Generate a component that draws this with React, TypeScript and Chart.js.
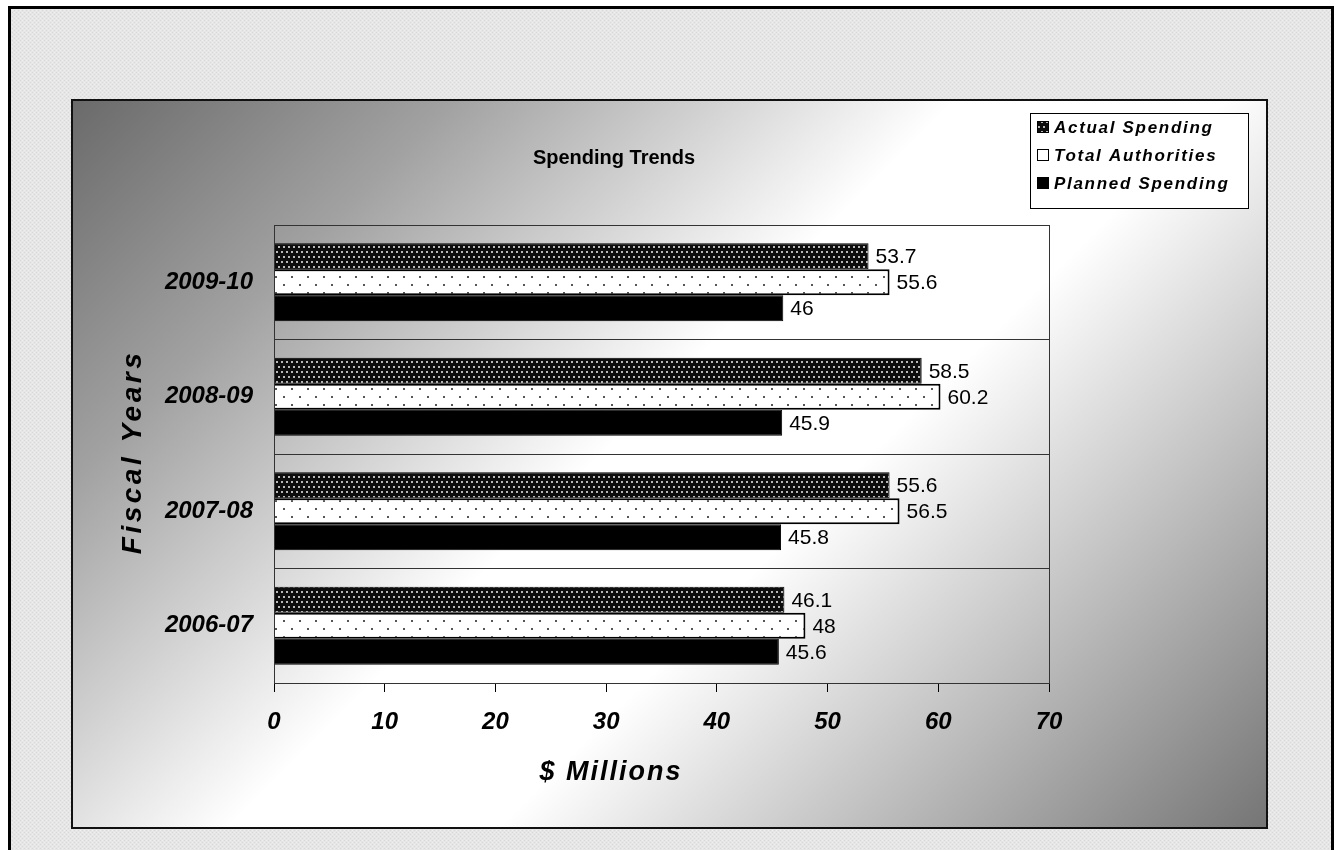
import React, { useEffect, useRef } from 'react';
import { Chart, registerables } from 'chart.js';

Chart.register(...registerables);

const categories = ['2009-10', '2008-09', '2007-08', '2006-07'];
const actualSpending = [53.7, 58.5, 55.6, 46.1];
const totalAuthorities = [55.6, 60.2, 56.5, 48];
const plannedSpending = [46, 45.9, 45.8, 45.6];
const seriesNames = ['Actual Spending', 'Total Authorities', 'Planned Spending'];
const xMin = 0;
const xMax = 70;
const xStep = 10;
const chartTitle = 'Spending Trends';
const xTitle = '$ Millions';
const yTitle = 'Fiscal Years';

const FONT = 'Arial, "Liberation Sans", sans-serif';
const W = 1339;
const H = 850;

function makePattern(ctx: CanvasRenderingContext2D, kind: string): CanvasPattern | string {
  const c = document.createElement('canvas');
  const g = c.getContext('2d')!;
  if (kind === 'actual') {
    c.width = 10; c.height = 10;
    g.fillStyle = '#0c0c0c'; g.fillRect(0, 0, 10, 10);
    g.fillStyle = '#b8b8b8';
    g.fillRect(1, 1, 2, 2); g.fillRect(6, 1, 2, 2);
    g.fillRect(3, 6, 2, 2); g.fillRect(8, 6, 2, 2);
  } else if (kind === 'total') {
    c.width = 16; c.height = 16;
    g.fillStyle = '#ffffff'; g.fillRect(0, 0, 16, 16);
    g.fillStyle = '#555555';
    g.fillRect(3, 4, 2, 2); g.fillRect(11, 12, 2, 2);
  } else if (kind === 'page') {
    c.width = 4; c.height = 4;
    g.fillStyle = '#e6e6e6'; g.fillRect(0, 0, 4, 4);
    g.fillStyle = '#d8d8d8';
    g.fillRect(0, 0, 1, 1); g.fillRect(2, 2, 1, 1);
    g.fillStyle = '#efefef';
    g.fillRect(2, 0, 1, 1); g.fillRect(0, 2, 1, 1);
  } else {
    return '#000000';
  }
  return ctx.createPattern(c, 'repeat')!;
}

export default function App() {
  const ref = useRef<HTMLCanvasElement>(null);
  useEffect(() => {
    const canvas = ref.current!;
    const ctx = canvas.getContext('2d')!;
    const pActual = makePattern(ctx, 'actual');
    const pTotal = makePattern(ctx, 'total');
    const pPlanned = makePattern(ctx, 'planned');
    const pPage = makePattern(ctx, 'page');
    const fills = [pActual, pTotal, pPlanned];

    const backdrop = {
      id: 'backdrop',
      beforeDraw(chart: any) {
        const c = chart.ctx as any;
        c.save();
        c.fillStyle = '#ffffff';
        c.fillRect(0, 0, W, H);
        c.fillStyle = pPage as any;
        c.fillRect(9, 7, 1324, H);
        c.strokeStyle = '#000';
        c.lineWidth = 3;
        c.beginPath();
        c.moveTo(9.5, H + 5);
        c.lineTo(9.5, 7.5);
        c.lineTo(1332.5, 7.5);
        c.lineTo(1332.5, H + 5);
        c.stroke();
        // chart area box with gradient
        const x0 = 72, y0 = 100, x1 = 1267, y1 = 828;
        const grad = c.createLinearGradient(x0, y0, x0 + 961, y0 + 961);
        grad.addColorStop(0, '#6a6a6a');
        grad.addColorStop(0.2, '#a2a2a2');
        grad.addColorStop(0.46, '#ffffff');
        grad.addColorStop(0.6, '#ffffff');
        grad.addColorStop(1, '#757575');
        c.fillStyle = grad;
        c.fillRect(x0, y0, x1 - x0, y1 - y0);
        c.lineWidth = 2;
        c.strokeStyle = '#111';
        c.strokeRect(x0, y0, x1 - x0, y1 - y0);
        // title
        c.fillStyle = '#000';
        c.textAlign = 'center';
        c.textBaseline = 'middle';
        c.font = `bold 20px ${FONT}`;
        c.fillText(chartTitle, 614, 158);
        c.font = `italic bold 27px ${FONT}`;
        c.letterSpacing = '2px';
        c.fillText(xTitle, 611, 773);
        c.save();
        c.translate(133, 452);
        c.rotate(-Math.PI / 2);
        c.font = `italic bold 28px ${FONT}`;
        c.letterSpacing = '3.5px';
        c.fillText(yTitle, 0, 0);
        c.restore();
        c.letterSpacing = '0px';
        // legend
        const lx = 1030, ly = 113, lw = 1248 - 1030, lh = 95;
        c.fillStyle = '#ffffff';
        c.fillRect(lx, ly, lw, lh);
        c.strokeStyle = '#000';
        c.lineWidth = 1;
        c.strokeRect(lx + 0.5, ly + 0.5, lw, lh);
        c.textAlign = 'left';
        c.font = `italic bold 17px ${FONT}`;
        c.letterSpacing = '1.7px';
        seriesNames.forEach((name, i) => {
          const cy = 127 + i * 28;
          c.fillStyle = fills[i] as any;
          c.fillRect(1037, cy - 6, 12, 12);
          c.strokeStyle = '#000';
          c.strokeRect(1037.5, cy - 5.5, 11, 11);
          c.fillStyle = '#000';
          c.fillText(name, 1054, cy + 1);
        });
        c.letterSpacing = '0px';
        c.restore();
      },
      afterDatasetsDraw(chart: any) {
        const c = chart.ctx as CanvasRenderingContext2D;
        c.save();
        c.font = `21px ${FONT}`;
        c.fillStyle = '#000';
        c.textAlign = 'left';
        c.textBaseline = 'middle';
        chart.data.datasets.forEach((ds: any, di: number) => {
          const meta = chart.getDatasetMeta(di);
          meta.data.forEach((bar: any, i: number) => {
            c.fillText(String(ds.data[i]), bar.x + 7, bar.y + 1);
          });
        });
        const a = chart.chartArea;
        c.strokeStyle = '#333';
        c.lineWidth = 1;
        c.strokeRect(Math.round(a.left) + 0.5, Math.round(a.top) + 0.5, a.right - a.left, a.bottom - a.top);
        c.restore();
      },
    };

    const chart = new Chart(canvas, {
      type: 'bar',
      data: {
        labels: categories,
        datasets: [
          { label: seriesNames[0], data: actualSpending, backgroundColor: pActual as any, borderColor: '#000', borderWidth: 1 },
          { label: seriesNames[1], data: totalAuthorities, backgroundColor: pTotal as any, borderColor: '#000', borderWidth: 2 },
          { label: seriesNames[2], data: plannedSpending, backgroundColor: pPlanned as any, borderColor: '#000', borderWidth: 1 },
        ],
      },
      options: {
        indexAxis: 'y',
        responsive: false,
        animation: false,
        devicePixelRatio: 1,
        layout: { padding: { left: 0, top: 225, right: W - 1049, bottom: 0 } },
        datasets: { bar: { categoryPercentage: 0.68, barPercentage: 1 } },
        plugins: { legend: { display: false }, title: { display: false }, tooltip: { enabled: false } },
        scales: {
          x: {
            min: xMin,
            max: xMax,
            ticks: { stepSize: xStep, color: '#000', padding: 16, font: { family: FONT, size: 24, weight: 'bold', style: 'italic' } },
            grid: { drawOnChartArea: false, drawTicks: true, tickLength: 9, color: '#000' },
            border: { display: true, color: '#000', width: 1 },
            afterFit: (s: any) => { s.height = H - 683; },
          },
          y: {
            ticks: { color: '#000', padding: 21, font: { family: FONT, size: 24, weight: 'bold', style: 'italic' } },
            grid: { drawOnChartArea: true, drawTicks: false, color: '#333', offset: true },
            border: { display: true, color: '#000', width: 1 },
            afterFit: (s: any) => { s.width = 274; },
          },
        },
      },
      plugins: [backdrop],
    } as any);
    return () => chart.destroy();
  }, []);

  return (
    <div style={{ position: 'absolute', left: 0, top: 0, width: W, height: H }}>
      <canvas ref={ref} width={W} height={H} style={{ display: 'block', width: W, height: H }} />
    </div>
  );
}
